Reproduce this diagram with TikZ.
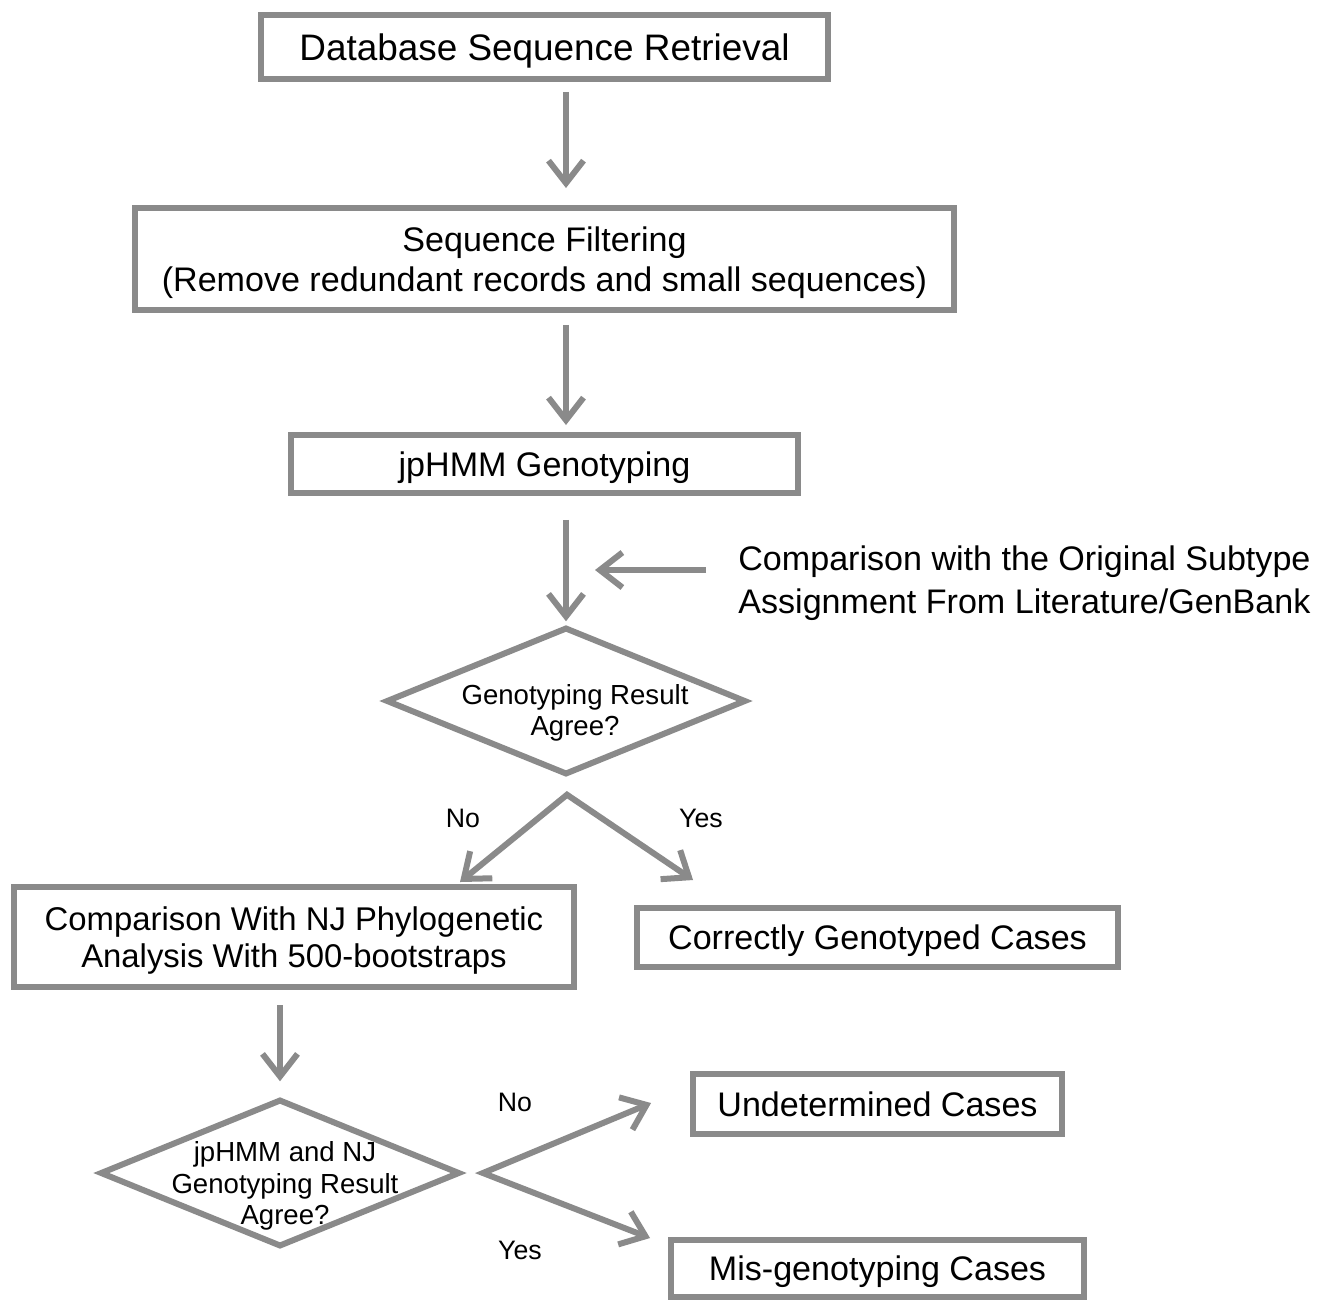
\documentclass[tikz,border=0pt]{standalone}
\usepackage{fontspec}
\setmainfont{Liberation Sans}
\usetikzlibrary{calc}
\usetikzlibrary{arrows.meta}
\usetikzlibrary{shapes.geometric}

\definecolor{boxgray}{RGB}{138,138,138}

\begin{document}
\begin{tikzpicture}[x=0.02cm,y=-0.02cm,
  box/.style={draw=boxgray,line width=0.12cm,rectangle,inner sep=0pt,align=center,
    text depth=0pt,font=\fontsize{19.4}{23}\selectfont},
  dia/.style={draw=boxgray,line width=0.12cm,diamond,inner sep=0pt,
    minimum width=7.2cm,minimum height=2.95cm},
  diatext/.style={align=center,inner sep=0pt,text depth=0pt,font=\fontsize{15.7}{18}\selectfont},
  lbl/.style={inner sep=0pt,font=\fontsize{15.2}{18}\selectfont},
  arr/.style={draw=boxgray,line width=0.12cm,-{Straight Barb[length=0.45cm,width=0.7cm]}},
  arrboth/.style={draw=boxgray,line width=0.12cm,
    {Straight Barb[length=0.45cm,width=0.7cm]}-{Straight Barb[length=0.45cm,width=0.7cm]}}]
  % Boundary
  \useasboundingbox (0,0) rectangle (1334,1301);
  % Main column
  \node[box,minimum width=11.34cm,minimum height=1.28cm,font=\fontsize{21}{25}\selectfont] (retrieve) at (544.5,47)
    {Database Sequence Retrieval};
  \node[box,minimum width=16.38cm,minimum height=2.04cm] (filter) at (544.5,259)
    {Sequence Filtering\\(Remove redundant records and small sequences)};
  \node[box,minimum width=10.14cm,minimum height=1.16cm] (jphmm) at (544.5,464) {jpHMM Genotyping};
  \node[dia] (dia1) at (566,701) {};
  \node[diatext] (agree1) at ($(dia1)+(9,9)$) {Genotyping Result\\Agree?};
  % Literature note
  \node[inner sep=0pt,align=left,anchor=west,text depth=0pt,font=\fontsize{19.4}{24.4}\selectfont] (source) at (738,580)
    {Comparison with the Original Subtype\\Assignment From Literature/GenBank};
  % Second stage
  \node[box,minimum width=11.2cm,minimum height=2cm,font=\fontsize{18.7}{21.5}\selectfont] (compare) at (294,937)
    {Comparison With NJ Phylogenetic\\Analysis With 500-bootstraps};
  \node[box,minimum width=9.62cm,minimum height=1.18cm] (correct) at (877.5,937.5) {Correctly Genotyped Cases};
  \node[dia] (dia2) at (280,1173) {};
  \node[diatext] (agree2) at ($(dia2)+(5,10)$) {jpHMM and NJ\\Genotyping Result\\Agree?};
  \node[box,minimum width=7.38cm,minimum height=1.2cm] (undet) at (877.5,1104) {Undetermined Cases};
  \node[box,minimum width=8.26cm,minimum height=1.14cm] (misgeno) at (877.5,1268) {Mis-genotyping Cases};
  % Straight arrows
  \draw[arr,shorten <=0.2cm,shorten >=0.34cm] (retrieve.south -| dia1.north) -- (filter.north -| dia1.north);
  \draw[arr,shorten <=0.24cm,shorten >=0.14cm] (filter.south -| dia1.north) -- (jphmm.north -| dia1.north);
  \draw[arr,shorten <=0.48cm,shorten >=0.06cm] (jphmm.south -| dia1.north) -- (dia1.north);
  \coordinate (notein) at ($(source.west)+(-32,-10)$);
  \draw[arr] (notein) -- ($(notein -| dia1.north)+(29,0)$);
  \draw[arr,shorten <=0.3cm,shorten >=0.3cm] (compare.south -| dia2.north) -- (dia2.north);
  % Branches
  \coordinate (split1) at ($(dia1.south)+(1,17)$);
  \coordinate (split2) at ($(dia2.east)+(20,0)$);
  \draw[arrboth] ($(compare.north)+(166,-2)$) -- (split1) -- ($(correct.north west)+(59,-25)$);
  \draw[arrboth] ($(undet.west)+(-39,-1)$) -- (split2) -- ($(misgeno.west)+(-18,-30)$);
  \node[lbl] (no1) at (463,818) {No};
  \node[lbl] (yes1) at (701,818) {Yes};
  \node[lbl] (no2) at (515,1102) {No};
  \node[lbl] (yes2) at (520,1250) {Yes};
\end{tikzpicture}
\end{document}
